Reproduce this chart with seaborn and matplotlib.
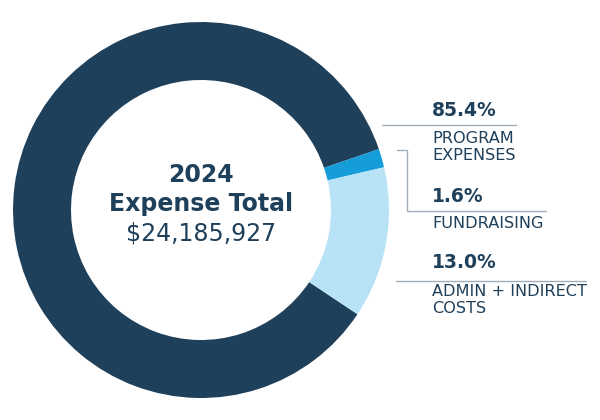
import matplotlib
matplotlib.use("Agg")
import matplotlib.pyplot as plt
import seaborn as sns

categories = ["PROGRAM\nEXPENSES", "FUNDRAISING", "ADMIN + INDIRECT\nCOSTS"]
shares = [85.4, 1.6, 13.0]
pct_labels = ["85.4%", "1.6%", "13.0%"]
center_lines = ["2024", "Expense Total", "$24,185,927"]

sns.set_theme(style="white")
plt.rcParams['font.family'] = ['DejaVu Sans']

NAVY = "#1f405b"
colors = ["#1f405b", "#149dd9", "#b8e3f7"]
GRAY = "#a3aeb9"

fig = plt.figure(figsize=(6, 4.2), dpi=100)
ax = fig.add_axes([0, 0, 1, 1])
ax.set_xlim(0, 600)
ax.set_ylim(0, 420)
ax.set_aspect("equal")
ax.axis("off")

H = 420
start = 18.9 + shares[0] / 100 * 360
ax.pie(shares, colors=colors, startangle=start, counterclock=False,
       center=(201, H - 210), radius=188,
       wedgeprops=dict(width=58, edgecolor="none"))
ax.set_xlim(0, 600)
ax.set_ylim(0, 420)

# center text
ax.text(201, H - 175, center_lines[0], ha="center", va="center",
        fontsize=17, fontweight="bold", color=NAVY)
ax.text(201, H - 204, center_lines[1], ha="center", va="center",
        fontsize=17, fontweight="bold", color=NAVY)
ax.text(201, H - 233, center_lines[2], ha="center", va="center",
        fontsize=17, color=NAVY)

# right labels
pct_y = [111, 197, 263]
cat_y = [147, 224, 300]
for p, c, py, cy in zip(pct_labels, categories, pct_y, cat_y):
    ax.text(432, H - py, p, ha="left", va="center", fontsize=13.5,
            fontweight="bold", color=NAVY)
    ax.text(432, H - cy, c, ha="left", va="center", fontsize=11.6,
            color=NAVY, linespacing=1.2)

# leader lines
ax.plot([382, 516], [H - 125, H - 125], color=GRAY, lw=1)
ax.plot([397, 407, 407, 546], [H - 150, H - 150, H - 211, H - 211], color=GRAY, lw=1)
ax.plot([396, 586], [H - 281, H - 281], color=GRAY, lw=1)

fig.savefig("out.png", dpi=100)
